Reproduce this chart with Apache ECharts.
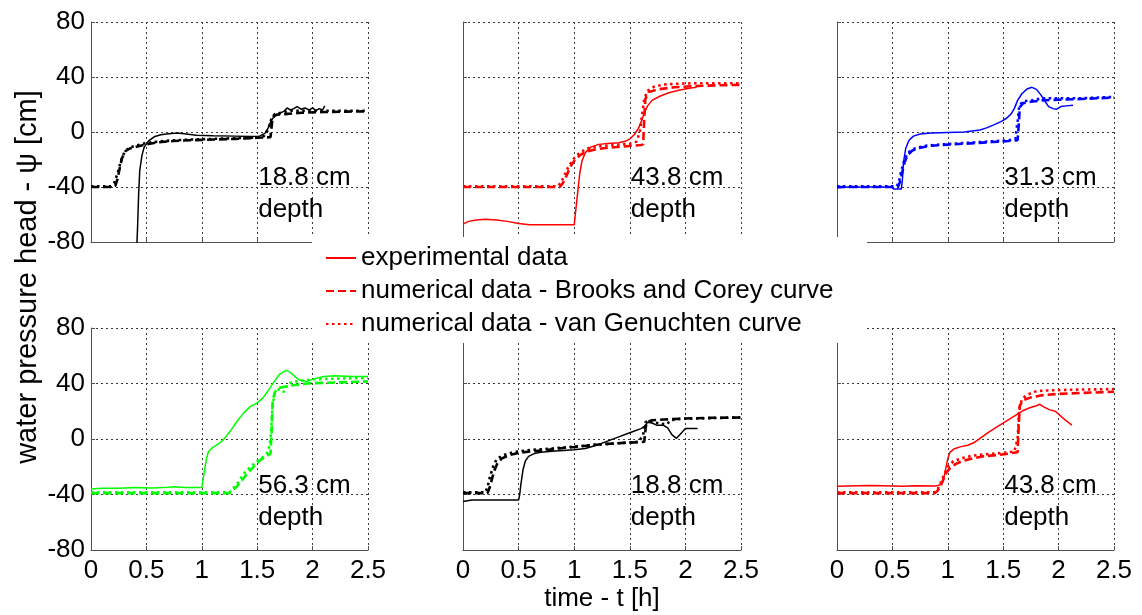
<!DOCTYPE html>
<html>
<head>
<meta charset="utf-8">
<script src="https://cdn.jsdelivr.net/npm/echarts@6/dist/echarts.min.js"></script>
<style>
  html, body { margin: 0; padding: 0; background: #fff; }
  #chart { width: 1142px; height: 615px; }
</style>
</head>
<body>
<div id="chart"></div>
<script>
// Pressure head time series at several sensor depths: measured values and two
// numerical runs (Brooks-Corey and van Genuchten retention curves).
// Each series is a list of [time in h, pressure head in cm].

const xTicks = { min: 0, max: 2.5, step: 0.5 };
const yTicks = { min: -80, max: 80, step: 40 };

const depthLabels = ['18.8 cm', '43.8 cm', '31.3 cm', '56.3 cm', '18.8 cm', '43.8 cm'];
const panelColors = ['#000000', '#ff0000', '#0000ff', '#00ff00', '#000000', '#ff0000'];

const legendNames = [
  'experimental data',
  'numerical data - Brooks and Corey curve',
  'numerical data - van Genuchten curve'
];

// --- 18.8 cm, first run ---
const exp188a = [[0.41,-90],[0.42,-70],[0.43,-45],[0.44,-28],[0.46,-17],[0.48,-11],[0.52,-6.5],[0.57,-3.5],[0.63,-2],[0.7,-1.2],[0.78,-0.8],[0.86,-1.5],[0.95,-2.3],[1.1,-2.8],[1.3,-3],[1.45,-3.2],[1.52,-3],[1.57,-1],[1.6,3],[1.62,7],[1.64,10],[1.67,12],[1.7,13.5],[1.74,15],[1.77,17.5],[1.8,16],[1.83,17],[1.86,18.5],[1.9,16.5],[1.93,17.5],[1.97,16],[2.0,17.5],[2.03,15.5],[2.06,17],[2.09,16],[2.11,19]];
const bc188a = [[0,-40],[0.1,-40],[0.2,-40],[0.22,-39],[0.24,-34],[0.26,-26],[0.28,-19],[0.31,-14],[0.35,-12],[0.42,-10.5],[0.5,-9],[0.6,-7.5],[0.75,-6.5],[0.9,-6],[1.1,-5.5],[1.3,-5],[1.5,-4.2],[1.62,-3.8],[1.63,4],[1.64,11],[1.67,12.5],[1.75,13],[1.9,14],[2.1,14.5],[2.3,14.8],[2.5,15]];
const vg188a = [[0,-39.5],[0.18,-39.5],[0.21,-37],[0.24,-30],[0.27,-21],[0.3,-15],[0.34,-11.5],[0.4,-10],[0.5,-8],[0.6,-7],[0.75,-6],[0.9,-5.5],[1.1,-5],[1.3,-4.5],[1.5,-4],[1.56,-3],[1.6,2],[1.63,10],[1.66,13],[1.72,14],[1.8,15.5],[1.9,15.5],[2.1,15.5],[2.3,15.5],[2.5,15.5]];

// --- 43.8 cm, first run ---
const exp438a = [[0,-67],[0.05,-65],[0.12,-64],[0.2,-63.5],[0.3,-64],[0.4,-65],[0.5,-66.5],[0.6,-67.5],[0.8,-67.5],[1.0,-67.5],[1.01,-60],[1.03,-45],[1.05,-30],[1.07,-21],[1.1,-15],[1.15,-11],[1.22,-9],[1.3,-8.3],[1.4,-7.8],[1.46,-6.8],[1.5,-5],[1.54,-2],[1.58,3],[1.61,9],[1.63,14],[1.66,19],[1.7,23],[1.77,26],[1.85,28.5],[1.95,30.5],[2.05,32],[2.1,32.5]];
const bc438a = [[0,-40],[0.5,-40],[0.87,-40],[0.9,-37],[0.93,-32],[0.96,-26],[1.0,-21],[1.05,-17],[1.1,-14.5],[1.2,-12.5],[1.3,-11.5],[1.45,-10.5],[1.6,-9.5],[1.62,-9],[1.63,10],[1.64,24],[1.67,29],[1.75,31],[1.9,32.5],[2.1,33.5],[2.3,34],[2.5,34.3]];
const vg438a = [[0,-39.5],[0.85,-39.5],[0.88,-37],[0.91,-32],[0.95,-25],[1.0,-19],[1.05,-15],[1.12,-12],[1.2,-10.5],[1.35,-9.5],[1.5,-8.5],[1.56,-7],[1.59,0],[1.61,12],[1.63,24],[1.66,30],[1.72,33],[1.8,34.5],[1.9,35],[2.1,35.5],[2.5,35.5]];

// --- 31.3 cm ---
const exp313 = [[0,-40.5],[0.1,-40],[0.3,-40],[0.5,-40],[0.51,-41.5],[0.58,-41.5],[0.59,-35],[0.6,-22],[0.62,-12],[0.65,-6],[0.69,-3],[0.75,-1.5],[0.85,-0.8],[1.0,-0.3],[1.15,0],[1.29,1.5],[1.35,3],[1.41,5],[1.48,7.5],[1.53,10],[1.57,13],[1.6,17],[1.63,23],[1.67,28],[1.72,31.5],[1.76,32.5],[1.8,31],[1.84,27],[1.88,22],[1.91,18.5],[1.95,17],[1.98,16.5],[2.02,18.5],[2.07,19],[2.13,19.5]];
const bc313 = [[0,-40],[0.3,-40],[0.55,-40],[0.57,-36],[0.59,-29],[0.61,-22],[0.64,-16.5],[0.68,-13.5],[0.75,-11.5],[0.85,-10],[1.0,-9.2],[1.2,-8.3],[1.4,-7.3],[1.55,-6.5],[1.63,-6],[1.64,5],[1.65,18],[1.68,21],[1.75,22],[1.85,23],[2.0,23.5],[2.2,24],[2.5,25]];
const vg313 = [[0,-39.5],[0.54,-39.5],[0.56,-36],[0.58,-28],[0.61,-20],[0.64,-15],[0.7,-12],[0.8,-10],[0.95,-9],[1.15,-8],[1.35,-7],[1.55,-6],[1.61,-5],[1.63,8],[1.645,19],[1.68,22.5],[1.76,23],[1.85,24.5],[2.0,24.5],[2.2,24.5],[2.5,25.5]];

// --- 56.3 cm ---
const exp563 = [[0,-36],[0.1,-35.5],[0.25,-35.5],[0.4,-35],[0.55,-35.3],[0.7,-34.8],[0.75,-34.5],[0.85,-35],[1.0,-35],[1.02,-25],[1.04,-15],[1.06,-9],[1.1,-6],[1.16,-3],[1.2,0],[1.26,6],[1.32,13],[1.38,19],[1.44,23.5],[1.5,26],[1.55,29.5],[1.6,35],[1.65,41],[1.7,46.5],[1.76,49.5],[1.8,48],[1.84,45],[1.88,42.5],[1.95,41.5],[2.02,43.5],[2.1,45],[2.2,45.5],[2.35,45],[2.5,45]];
const bc563 = [[0,-39],[0.5,-39],[1.0,-39],[1.25,-39],[1.28,-37],[1.32,-34],[1.37,-29],[1.42,-24],[1.48,-19],[1.53,-15],[1.58,-12.5],[1.62,-10.5],[1.63,5],[1.64,28],[1.66,34],[1.7,37],[1.8,38.5],[1.95,40],[2.1,40.5],[2.3,41],[2.5,41.5]];
const vg563 = [[0,-38.5],[1.25,-38.5],[1.28,-36],[1.33,-31],[1.38,-25],[1.44,-20],[1.5,-16],[1.56,-12.5],[1.6,-9],[1.62,0],[1.64,25],[1.66,33],[1.7,36],[1.74,34],[1.78,40],[1.85,41.5],[2.0,43],[2.2,43.5],[2.5,44]];

// --- 18.8 cm, second run ---
const exp188b = [[0,-45],[0.08,-44],[0.2,-44],[0.35,-44],[0.5,-44],[0.51,-40],[0.52,-33],[0.54,-22],[0.56,-16],[0.59,-12.5],[0.64,-10.5],[0.7,-9.5],[0.8,-8.8],[0.9,-8.2],[1.0,-7.7],[1.1,-6.8],[1.2,-4.5],[1.3,-1.5],[1.4,1.5],[1.5,4.5],[1.6,7.5],[1.63,9],[1.66,12],[1.7,11.5],[1.74,10],[1.8,10],[1.84,8],[1.88,3],[1.92,0.5],[1.96,4],[2.0,7.5],[2.11,7.5]];
const bc188b = [[0,-39],[0.22,-39],[0.24,-35],[0.26,-29],[0.28,-23],[0.31,-17.5],[0.35,-14],[0.42,-11.5],[0.5,-10],[0.6,-9],[0.75,-8],[0.9,-6.5],[1.0,-5.8],[1.15,-4.5],[1.3,-3.5],[1.45,-2.8],[1.6,-2.2],[1.63,-2],[1.64,6],[1.65,12],[1.7,13.5],[1.8,14],[2.0,14.8],[2.2,15.2],[2.5,15.5]];
const vg188b = [[0,-38.5],[0.2,-38.5],[0.22,-35],[0.24,-28],[0.27,-20],[0.3,-15],[0.35,-12],[0.45,-9.5],[0.6,-8],[0.8,-6.8],[1.0,-5.5],[1.2,-4],[1.4,-3],[1.58,-2],[1.62,3],[1.64,12],[1.67,13.5],[1.72,12],[1.78,11],[1.83,10.5],[1.87,13.5],[1.95,14.5],[2.2,15],[2.5,15.5]];

// --- 43.8 cm, second run ---
const exp438b = [[0,-34],[0.1,-33.8],[0.3,-33.5],[0.5,-33.8],[0.6,-34],[0.7,-33.7],[0.9,-33.8],[0.93,-33],[0.96,-30],[0.98,-22],[1.0,-14],[1.02,-9.5],[1.06,-7],[1.12,-5.5],[1.18,-4.5],[1.24,-2.5],[1.3,1],[1.37,5],[1.44,8.5],[1.52,12.5],[1.6,16.5],[1.68,20.5],[1.74,22.5],[1.8,24],[1.83,25],[1.87,23],[1.92,21],[1.97,20],[2.02,16.5],[2.07,13],[2.12,10]];
const bc438b = [[0,-39],[0.5,-39],[0.88,-39],[0.9,-38],[0.93,-35],[0.96,-29],[0.99,-24],[1.02,-21],[1.07,-18],[1.13,-16],[1.22,-14],[1.32,-12.5],[1.45,-11.5],[1.55,-10.5],[1.63,-9.5],[1.64,10],[1.65,24],[1.68,28],[1.75,30],[1.85,31.5],[2.0,32.5],[2.2,33.2],[2.5,34]];
const vg438b = [[0,-38.5],[0.88,-38.5],[0.91,-36],[0.94,-31],[0.97,-25],[1.0,-20],[1.05,-16],[1.12,-14],[1.22,-12],[1.35,-11],[1.5,-10],[1.6,-9],[1.63,0],[1.645,22],[1.67,29],[1.72,32],[1.8,34.5],[1.9,35],[2.1,35.5],[2.5,36]];

const panelSeries = [
  [exp188a, bc188a, vg188a],
  [exp438a, bc438a, vg438a],
  [exp313, bc313, vg313],
  [exp563, bc563, vg563],
  [exp188b, bc188b, vg188b],
  [exp438b, bc438b, vg438b]
];

// ---------- layout ----------
const FONT = '"Liberation Sans", Arial, Helvetica, sans-serif';
const FS = 26;
const grids = [
  { left: 91,  top: 22,  width: 277, height: 220 },
  { left: 463, top: 22,  width: 278, height: 220 },
  { left: 837, top: 22,  width: 277, height: 220 },
  { left: 91,  top: 328, width: 277, height: 222 },
  { left: 463, top: 328, width: 278, height: 222 },
  { left: 837, top: 328, width: 277, height: 222 }
];
const AXIS_COLOR = '#505050';
const gridLine = { show: true, lineStyle: { color: '#3a3a3a', width: 1, type: [2, 3] } };
const lineStyles = [
  { width: 1.5, type: 'solid' },
  { width: 2.6, type: [8, 4] },
  { width: 2.6, type: [2.5, 3.5] }
];

const xAxes = grids.map((g, i) => ({
  type: 'value', gridIndex: i,
  min: xTicks.min, max: xTicks.max, interval: xTicks.step,
  axisLine: { show: true, onZero: false, lineStyle: { color: AXIS_COLOR, width: 1 } },
  axisTick: { show: true, inside: true, length: 4, lineStyle: { color: AXIS_COLOR } },
  axisLabel: { show: i >= 3, color: '#000', fontSize: FS, fontFamily: FONT, margin: 8 },
  splitLine: gridLine,
  name: i === 4 ? 'time - t [h]' : '',
  nameLocation: 'middle', nameGap: 36,
  nameTextStyle: { color: '#000', fontSize: FS, fontFamily: FONT }
}));

const yAxes = grids.map((g, i) => ({
  type: 'value', gridIndex: i,
  min: yTicks.min, max: yTicks.max, interval: yTicks.step,
  axisLine: { show: true, onZero: false, lineStyle: { color: AXIS_COLOR, width: 1 } },
  axisTick: { show: true, inside: true, length: 4, lineStyle: { color: AXIS_COLOR } },
  axisLabel: { show: i % 3 === 0, color: '#000', fontSize: FS, fontFamily: FONT, margin: 6 },
  splitLine: gridLine
}));

const series = [];
panelSeries.forEach((sets, i) => {
  sets.forEach((data, k) => {
    series.push({
      type: 'line',
      name: i === 1 ? legendNames[k] : legendNames[k] + ' (' + depthLabels[i] + ')',
      xAxisIndex: i, yAxisIndex: i,
      data: data,
      symbol: 'none',
      clip: true,
      z: 3 + k,
      itemStyle: { color: panelColors[i] },
      lineStyle: Object.assign({ color: panelColors[i], cap: 'butt' }, lineStyles[k])
    });
  });
});

// depth captions sit at t = 1.5 h in every panel
const captions = grids.map((g, i) => ({
  type: 'text',
  x: g.left + g.width * 1.5 / 2.5 + 1,
  y: g.top + (i < 3 ? 140 : 142),
  z: 12,
  style: {
    text: depthLabels[i] + '\ndepth',
    fontSize: FS, fontFamily: FONT, fill: '#000',
    lineHeight: 32, align: 'left', verticalAlign: 'top'
  }
}));

const option = {
  animation: false,
  backgroundColor: '#ffffff',
  grid: grids.map(g => Object.assign({ containLabel: false }, g)),
  xAxis: xAxes,
  yAxis: yAxes,
  series: series,
  legend: {
    show: true,
    selectedMode: false,
    orient: 'vertical',
    left: 325, top: 243,
    padding: 0,
    itemWidth: 30, itemHeight: 14, itemGap: 3,
    z: 20,
    // line samples only, no marker in the middle
    itemStyle: { color: 'rgba(0,0,0,0)', borderWidth: 0, opacity: 0 },
    lineStyle: { width: 2 },
    textStyle: { color: '#000', fontSize: FS, fontFamily: FONT, lineHeight: 30 },
    data: legendNames
  },
  graphic: [
    {
      type: 'rect', z: 10,
      shape: { x: 312, y: 237, width: 555, height: 106 },
      style: { fill: '#ffffff' }
    },
    ...captions,
    {
      type: 'text', x: 28, y: 277, rotation: Math.PI / 2, z: 12,
      style: {
        text: 'water pressure head - ψ [cm]',
        fontSize: 29, fontFamily: FONT, fill: '#000',
        align: 'center', verticalAlign: 'middle'
      }
    }
  ]
};

const chart = echarts.init(document.getElementById('chart'), null, { renderer: 'canvas' });
chart.setOption(option);
</script>
</body>
</html>
